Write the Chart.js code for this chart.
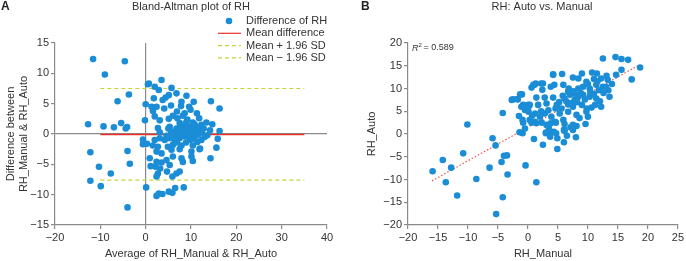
<!DOCTYPE html>
<html>
<head>
<meta charset="UTF-8">
<title>RH: Bland-Altman and Auto vs. Manual</title>
<script src="https://cdn.jsdelivr.net/npm/chart.js@4.4.0/dist/chart.umd.min.js"></script>
<style>
    body { margin: 0; background: #fff; }
    .panel { position: absolute; top: 0; }
</style>
</head>
<body>
<canvas id="chartA" class="panel" style="left:0px" width="343" height="261"></canvas>
<canvas id="chartB" class="panel" style="left:343px" width="343" height="261"></canvas>
<script>
// ---- panel A: Bland-Altman (average, difference) ----
const baAvg = [
    -11.6, -4.6, -9.0, 0.5, -3.7, -6.2, 0.0, -12.7, -9.3, -7.0, -5.4, -4.1, -4.4, -0.15, -12.2, -4.0, -0.6, -0.6, 0.3, -10.3, -3.5, -7.7, -12.2, -9.9, 0.1, -4.0,
    0.7, 3.5, 2.0, 2.9, 5.7, 1.8, 4.4, 3.75, 5.1, 6.8, 9.0, 10.6, 14.4, 16.3, 1.3, 2.4, 1.6, 4.1, 5.6, 7.9, 7.8, 9.6, 9.9, 2.0, 3.1, 5.1, 6.9, 6.0, 8.6, 11.3, 11.8, 13.4, 14.7, 16.3,
    2.7, 3.1, 5.3, 6.8, 7.5, 9.0, 10.4, 9.7, 11.2, 12.3, 8.2, 9.3, 10.8, 11.9, 6.0, 7.5,
    2.0, 3.1, 4.2, 5.3, 6.4, 7.5, 8.6, 9.7, 10.8, 12.3, 15.9, 1.6, 2.7, 4.9, 6.0, 7.9, 10.4, 12.0, 15.6, 2.4, 3.5, 5.7, 7.5, 10.1, 11.9,
    0.9, 2.4, 3.5, 4.6, 6.0, 7.9, 10.1, 10.4, 14.3, 1.1, 2.2, 3.2, 5.3, 8.2, 2.7, 4.7, 6.8, 7.5, 2.4, 5.9, 6.5, 8.4, 2.4, 2.9, 3.7, 5.1, 5.9,
    6.5, 7.2, 8.0, 8.8, 9.5, 10.2, 11.0, 11.6, 12.4, 13.0, 7.6, 8.6, 9.2, 10.0, 10.8, 6.2, 5.6, 7.0, 8.2, 9.8, 11.4, 12.8, 13.6, 14.2, 4.6, 5.0, 6.9, 8.9, 10.6, 9.0
];
const baDiff = [
    12.35, 12.0, 9.8, 8.2, 6.5, 5.4, 4.9, 1.6, 1.25, 1.1, 1.8, 1.15, 0.9, 2.25, -3.0, -2.8, -0.9, -1.7, -1.6, -5.4, -4.9, -6.5, -7.7, -8.6, -8.8, -12.1,
    8.3, 8.9, 7.8, 7.25, 7.6, 5.9, 6.0, 5.6, 6.4, 6.7, 6.3, 5.3, 5.4, 4.2, 4.5, 4.5, 3.8, 4.2, 4.7, 5.3, 4.6, 4.5, 4.0, 2.9, 2.25, 2.5, 3.7, 3.0, 3.4, 3.4, 2.6, 1.9, 1.6, 0.5,
    1.0, 0.3, 1.2, 0.9, 1.8, 2.0, 1.9, 1.2, 1.2, 1.5, 0.65, 0.4, 0.5, 0.65, 0.3, 0.3,
    -1.0, -0.7, -1.0, -0.7, -1.0, -0.7, -0.4, -1.0, -0.45, -1.0, -0.8, -1.9, -2.1, -2.1, -1.8, -1.9, -1.9, -2.4, -2.25, -2.9, -3.2, -2.6, -2.5, -2.9, -2.5,
    -4.0, -4.6, -4.7, -4.3, -3.7, -4.0, -3.7, -4.45, -4.0, -5.3, -5.4, -5.7, -5.1, -4.6, -6.5, -6.2, -6.5, -6.2, -7.0, -7.0, -8.9, -8.8, -10.2, -9.8, -9.9, -9.5, -9.7,
    0.0, -0.3, 0.2, -0.2, 0.1, -0.4, 0.2, -0.1, 0.3, -0.5, 1.3, 1.5, 2.4, 0.8, 1.6, -0.6, 0.4, 2.6, 3.0, -0.9, -1.3, 0.9, -0.2, 0.6, -0.3, 0.9, -1.4, -1.4, -0.8, 0.9
];
const meanDiff = -0.1;
const upperLoA = 7.5;
const lowerLoA = -7.6;
const loaRange = [-10, 35];
const legendLabels = ['Difference of RH', 'Mean difference', 'Mean + 1.96 SD', 'Mean \u2212 1.96 SD'];

// ---- panel B: RH Auto vs Manual ----
const rhManual = [
    -15.9, -14.2, -12.8, -13.7, -11.8, -10.8, -10.1, -8.6, -6.4, -5.9, -5.4, -4.4, -4.0, -3.5, -3.4, -4.2, -5.3, -4.2, -2.7, -1.8, -1.3, -1.1, -0.5, 0.05, 0.1, -1.5, -0.9, -1.4, -0.9, -0.5, -0.4,
    1.4, 1.0, 2.5, 3.0, 3.6, 3.7, 4.3, 4.9, 4.9, 6.0, 6.5, 8.0, 6.1, 4.7,
    0.6, 1.2, 2.3, 3.5, 4.5, 6.1, 6.0, 7.1, 8.1, 9.6, -0.8, 3.0, 3.8,
    12.5, 14.6, 15.6, 16.7, 18.7, 15.6, 17.3, 4.2, 0.9, 1.3, 2.2, 2.4, 0.6, 3.8, 4.4, 5.9, 6.7, 7.5, 8.4, 9.0, 10.7, 11.5, 9.75, 11.0, 12.2, 13.1, 13.3, 14.7,
    9.2, 10.3, 11.4, 12.5, 13.6, 8.4, 1.4, 2.8, 4.2, -0.8, 0.3, -0.2, 1.7, 3.1, 4.8, 6.1, 7.0, 7.8, 8.4, 9.2, 10.3, 11.4, 12.2, 10.6, 7.5, 6.7, 5.6,
    1.2, 2.0, 2.8, 3.9, 5.3, 6.7, 8.1, 9.75, 10.0, 8.6, 5.9, 4.65, 3.1, 1.4, 0.3, 7.5, 6.1, 7.5,
    1.1, 2.5, 4.2, 5.7, -2.5, -1.7, -1.0, -0.5, 0.1, 0.7,
    5.2, 6.4, 7.2, 8.0, 8.8, 9.5, 10.4, 11.0, 11.8, 12.6, 13.0, 9.0, 7.6, 6.8, 10.0, 11.6, 12.0, 8.2, 5.8, 4.6, 3.4, 2.2, 9.8, 11.2, 13.4, 14.0
];
const rhAuto = [
    -8.2, -5.7, -7.4, -10.6, -13.5, -4.25, 2.1, -9.9, -7.4, -0.95, -2.5, -6.15, -4.8, -4.7, -8.9, -13.9, -17.6, 4.6, 7.5, 7.7, 8.7, 6.0, 5.3, 6.4, 4.9, 3.95, 3.1, 0.4, 0.15, 1.2, -6.9,
    -10.6, -1.1, -2.35, 0.3, 0.3, -0.6, 0.5, -0.95, -3.3, -1.8, -0.4, -0.7, 0.66, 0.15,
    2.5, 2.7, 2.5, 1.25, 2.7, 2.2, 0.9, 1.5, 1.75, 2.2, 2.5, 0.15, 2.35,
    16.6, 16.9, 16.5, 16.3, 14.6, 14.1, 12.0, 13.1, 10.8, 11.1, 11.1, 9.7, 10.2, 10.4, 10.8, 10.8, 9.3, 12.4, 12.2, 13.3, 13.5, 13.3, 11.5, 12.1, 12.2, 12.8, 11.9, 13.0,
    10.4, 10.0, 10.8, 10.4, 8.2, 10.0, 8.0, 8.0, 8.0, 6.4, 6.4, 5.6, 6.4, 6.7, 6.4, 7.8, 8.6, 7.5, 8.2, 8.6, 8.2, 7.8, 6.0, 5.8, 6.0, 6.5, 5.6,
    4.5, 3.8, 4.5, 3.8, 4.5, 4.9, 4.2, 4.9, 3.8, 3.5, 3.1, 2.5, 2.0, 2.35, 3.1, 2.0, 0.9, 0.9,
    10.8, 11.1, 13.0, 13.2, 7.6, 7.6, 8.7, 6.0, 6.0, 4.0,
    7.0, 7.2, 6.8, 8.6, 9.0, 7.6, 9.2, 8.8, 9.6, 9.0, 10.4, 6.4, 9.4, 10.0, 11.0, 11.6, 7.2, 7.0, 8.4, 5.6, 5.2, 5.0, 5.6, 6.4, 9.6, 11.0
];
const regX = [-16, 18.6];
const regY = [-10.3, 15.2];
const r2Value = '0.589';

const blue = '#1a8dd6';
const red = '#e6322b';
const olive = '#c6d43a';
const axisGray = '#8a8a8a';
const txt = '#333333';

Chart.defaults.font.family = '"Liberation Sans", Arial, sans-serif';
Chart.defaults.font.size = 11;
Chart.defaults.color = txt;
Chart.defaults.animation = false;

function minusTick(v) {
    return String(v).replace('-', '\u2212');
}

function toPoints(xs, ys) {
    return xs.map((x, i) => ({ x: x, y: ys[i] }));
}

function axis(min, max, step, title, w, h, zeroLine) {
    return {
        type: 'linear',
        min: min,
        max: max,
        ticks: { stepSize: step, callback: minusTick, color: txt, padding: 2, font: { size: 11 } },
        grid: {
            drawOnChartArea: zeroLine,
            color: ctx => (zeroLine && ctx.tick && ctx.tick.value === 0) ? axisGray : 'rgba(0,0,0,0)',
            tickColor: axisGray,
            tickLength: 4,
            lineWidth: 1.2
        },
        border: { display: true, color: axisGray, width: 1.2 },
        title: { display: true, text: title, color: txt, font: { size: 11 }, padding: { top: 4, bottom: 0 } },
        afterFit: s => { if (w) s.width = w; if (h) s.height = h; }
    };
}

// headers, legend and R^2 label drawn on the canvases
function headerPlugin(letter, title, titleX) {
    return {
        id: 'header' + letter,
        afterDraw(chart) {
            const c = chart.ctx;
            c.save();
            c.fillStyle = '#222';
            c.textBaseline = 'middle';
            c.font = 'bold 12px "Liberation Sans", Arial';
            c.textAlign = 'left';
            c.fillText(letter, letter === 'A' ? 1 : 18, 7);
            c.font = '11px "Liberation Sans", Arial';
            c.fillStyle = txt;
            c.textAlign = 'center';
            c.fillText(title, titleX, 7);
            c.restore();
        }
    };
}

const legendPlugin = {
    id: 'legendA',
    afterDraw(chart) {
        const c = chart.ctx;
        const x0 = 218, y0 = 21, step = 12.3;
        c.save();
        c.font = '11px "Liberation Sans", Arial';
        c.fillStyle = txt;
        c.textBaseline = 'middle';
        legendLabels.forEach((lab, i) => {
            const y = y0 + i * step;
            if (i === 0) {
                c.fillStyle = blue;
                c.beginPath();
                c.arc(x0 + 11, y, 3.3, 0, Math.PI * 2);
                c.fill();
            } else {
                c.strokeStyle = i === 1 ? red : olive;
                c.lineWidth = 1.2;
                c.setLineDash(i === 1 ? [] : [4, 3]);
                c.beginPath();
                c.moveTo(x0, y);
                c.lineTo(x0 + 23, y);
                c.stroke();
            }
            c.setLineDash([]);
            c.fillStyle = txt;
            c.fillText(lab, x0 + 28, y);
        });
        c.restore();
    }
};

const r2Plugin = {
    id: 'r2',
    afterDraw(chart) {
        const c = chart.ctx;
        const x = chart.chartArea.left + 4, y = 48;
        c.save();
        c.fillStyle = txt;
        c.textBaseline = 'middle';
        c.font = 'italic 9px "Liberation Sans", Arial';
        c.fillText('R', x, y);
        c.font = '6px "Liberation Sans", Arial';
        c.fillText('2', x + 6.5, y - 3);
        c.font = '9px "Liberation Sans", Arial';
        c.fillText(' = ' + r2Value, x + 9, y);
        c.restore();
    }
};

function hLine(xr, yv) {
    return [{ x: xr[0], y: yv }, { x: xr[1], y: yv }];
}

new Chart(document.getElementById('chartA'), {
    type: 'scatter',
    data: {
        datasets: [
            {
                label: legendLabels[0],
                data: toPoints(baAvg, baDiff),
                backgroundColor: blue,
                borderWidth: 0,
                pointRadius: 3.3
            },
            {
                label: legendLabels[1],
                data: hLine(loaRange, meanDiff),
                showLine: true, borderColor: red, borderWidth: 1.5, pointRadius: 0
            },
            {
                label: legendLabels[2],
                data: hLine(loaRange, upperLoA),
                showLine: true, borderColor: olive, borderWidth: 1.2, borderDash: [4, 3], pointRadius: 0
            },
            {
                label: legendLabels[3],
                data: hLine(loaRange, lowerLoA),
                showLine: true, borderColor: olive, borderWidth: 1.2, borderDash: [4, 3], pointRadius: 0
            }
        ]
    },
    options: {
        responsive: false,
        layout: { padding: { top: 43, right: 16, left: 0, bottom: 0 } },
        plugins: { legend: { display: false }, tooltip: { enabled: false } },
        scales: {
            x: axis(-20, 40, 10, 'Average of RH_Manual & RH_Auto', null, 36, true),
            y: axis(-15, 15, 5, ['Difference between', 'RH_Manual & RH_Auto'], 55, null, true)
        }
    },
    plugins: [headerPlugin('A', 'Bland-Altman plot of RH', 191), legendPlugin]
});

new Chart(document.getElementById('chartB'), {
    type: 'scatter',
    data: {
        datasets: [
            {
                label: 'RH',
                data: toPoints(rhManual, rhAuto),
                backgroundColor: blue,
                borderWidth: 0,
                pointRadius: 3.3
            },
            {
                label: 'Linear fit',
                data: toPoints(regX, regY),
                showLine: true, borderColor: '#f05050', borderWidth: 1.2, borderDash: [1.5, 2], pointRadius: 0
            }
        ]
    },
    options: {
        responsive: false,
        layout: { padding: { top: 43, right: 7, left: 18, bottom: 0 } },
        plugins: { legend: { display: false }, tooltip: { enabled: false } },
        scales: {
            x: axis(-20, 25, 5, 'RH_Manual', null, 36, false),
            y: axis(-20, 20, 5, 'RH_Auto', 47, null, false)
        }
    },
    plugins: [headerPlugin('B', 'RH: Auto vs. Manual', 199), r2Plugin]
});
</script>
</body>
</html>
